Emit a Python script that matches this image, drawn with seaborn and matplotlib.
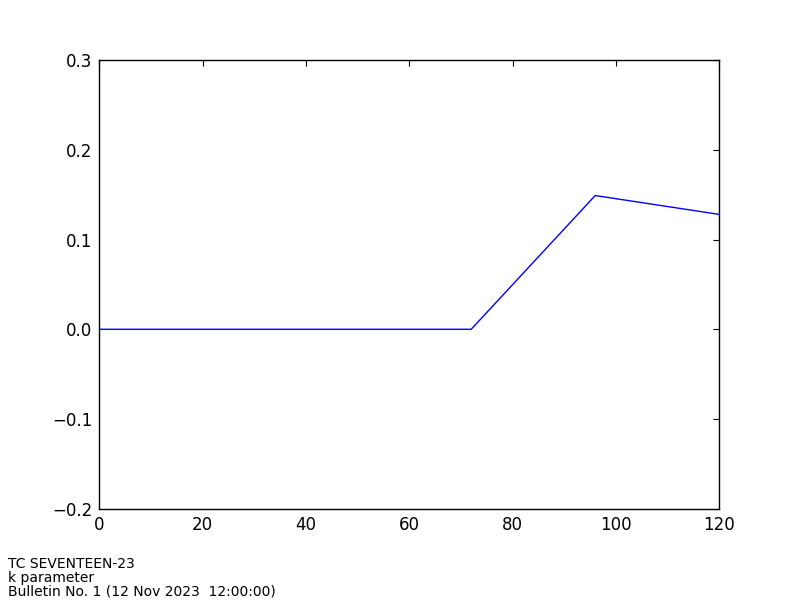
import matplotlib
matplotlib.use("Agg")
import matplotlib.pyplot as plt
import seaborn as sns
import pandas as pd

hours = [0, 72, 96, 120]
k_values = [0.0, 0.0, 0.149, 0.128]
xticks = [0, 20, 40, 60, 80, 100, 120]
yticks = [-0.2, -0.1, 0.0, 0.1, 0.2, 0.3]
footer_lines = ["TC SEVENTEEN-23", "k parameter", "Bulletin No. 1 (12 Nov 2023  12:00:00)"]

sns.set_style("white")
plt.rcParams['font.family'] = ['DejaVu Sans']
plt.rcParams['axes.unicode_minus'] = True

df = pd.DataFrame({"hours": hours, "k": k_values})

fig = plt.figure(figsize=(8, 6), dpi=100)
ax = fig.add_axes([0.124, 0.152, 0.775, 0.748])
sns.lineplot(data=df, x="hours", y="k", ax=ax, color="blue", linewidth=1.0)

ax.set_xlim(0, 120)
ax.set_ylim(-0.2, 0.3)
ax.set_xticks(xticks)
ax.set_yticks(yticks)
ax.set_yticklabels([f"{v:.1f}".replace("-", "\u2212") for v in yticks])
ax.set_xlabel("")
ax.set_ylabel("")
ax.tick_params(direction="in", length=4, width=0.8, top=True, right=True,
               labelsize=12, color="black", labelcolor="black", pad=5)
for s in ax.spines.values():
    s.set_visible(True)
    s.set_color("black")
    s.set_linewidth(1.0)

fig.text(0.01, 0.003, "\n".join(footer_lines), fontsize=10, ha="left", va="bottom",
         linespacing=0.95, color="black")

fig.savefig("out.png", dpi=100, facecolor="white")
